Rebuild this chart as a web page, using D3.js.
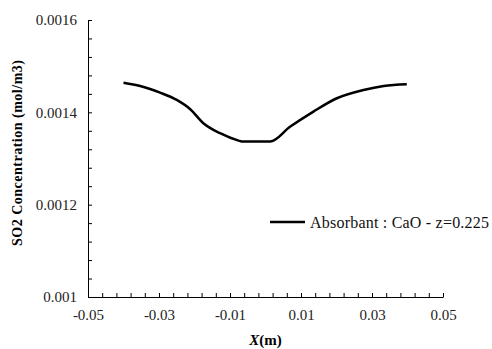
<!DOCTYPE html>
<html>
<head>
<meta charset="utf-8">
<script src="https://cdn.jsdelivr.net/npm/d3@7"></script>
<style>
  body { margin: 0; background: #fff; }
  svg { display: block; font-family: 'Liberation Serif', 'DejaVu Serif', serif; }
  .domain { stroke: #000; stroke-width: 1; }
  .tick line { stroke: #000; }
  .tick text { fill: #222; }
</style>
</head>
<body>
<div class="chart-container"></div>
<script>
// series: Absorbant : CaO - z=0.225
const xValues = [-0.040, -0.0353, -0.0297, -0.025, -0.0212, -0.0175, -0.0128, -0.0076, -0.0067, 0.0013, 0.007, 0.0135, 0.0201, 0.0276, 0.0333, 0.0398];
const yValues = [0.0014643, 0.0014572, 0.0014427, 0.0014269, 0.0014068, 0.0013765, 0.0013548, 0.0013388, 0.0013370, 0.0013366, 0.0013691, 0.0014016, 0.0014305, 0.0014485, 0.0014572, 0.0014608];

const xTicks = [-0.05, -0.03, -0.01, 0.01, 0.03, 0.05];
const yTicks = [0.001, 0.0012, 0.0014, 0.0016];
const seriesName = 'Absorbant : CaO - z=0.225';

const W = 492, H = 349;
const margin = {top: 20, right: 49, bottom: 52, left: 88};
const width = W - margin.left - margin.right;
const height = H - margin.top - margin.bottom;
const serif = "'Liberation Serif', 'DejaVu Serif', serif";

const svg = d3.select('.chart-container')
    .append('svg')
    .attr('width', W)
    .attr('height', H);

const chart = svg.append('g')
    .attr('transform', 'translate(' + margin.left + ',' + margin.top + ')');

const xScale = d3.scaleLinear().domain([-0.05, 0.05]).range([0, width]);
const yScale = d3.scaleLinear().domain([0.001, 0.0016]).range([height, 0]);

// minor ticks (inside)
const xMinor = d3.range(0, 26).map(i => -0.05 + i * 0.004);
const yMinor = d3.range(0, 16).map(i => 0.001 + i * 0.00004);

chart.append('g')
    .attr('transform', 'translate(0,' + height + ')')
    .call(d3.axisBottom(xScale).tickValues(xMinor).tickSize(-4).tickSizeOuter(0).tickFormat(''));

chart.append('g')
    .attr('transform', 'translate(0,' + height + ')')
    .call(d3.axisBottom(xScale).tickValues(xTicks).tickSize(0).tickPadding(12).tickFormat(d => String(d)))
    .attr('font-family', serif)
    .attr('font-size', 15)
    .call(g => g.select('.domain').remove());

chart.append('g')
    .call(d3.axisLeft(yScale).tickValues(yMinor).tickSize(-4).tickSizeOuter(0).tickFormat(''));

chart.append('g')
    .call(d3.axisLeft(yScale).tickValues(yTicks).tickSize(0).tickPadding(11).tickFormat(d => String(+d.toFixed(4))))
    .attr('font-family', serif)
    .attr('font-size', 15)
    .call(g => g.select('.domain').remove());

// line
const points = xValues.map((x, i) => ({x: x, y: yValues[i]}));
const valueline = d3.line()
    .x(d => xScale(d.x))
    .y(d => yScale(d.y))
    .curve(d3.curveMonotoneX);

chart.append('path')
    .datum(points)
    .attr('d', valueline)
    .attr('fill', 'none')
    .attr('stroke', '#000')
    .attr('stroke-width', 2.5);

// legend
const legend = svg.append('g').attr('transform', 'translate(270,222)');
legend.append('line')
    .attr('x1', 0).attr('x2', 35)
    .attr('stroke', '#000')
    .attr('stroke-width', 2.5);
legend.append('text')
    .attr('x', 40)
    .attr('y', 5.5)
    .attr('font-family', serif)
    .attr('textLength', 179)
    .attr('lengthAdjust', 'spacing')
    .style('font-size', '16px')
    .style('fill', '#111')
    .text(seriesName);

// axis titles
svg.append('text')
    .attr('transform', 'translate(22,153) rotate(-90)')
    .attr('text-anchor', 'middle')
    .attr('font-family', serif)
    .attr('textLength', 186)
    .attr('lengthAdjust', 'spacing')
    .style('font-size', '14px')
    .style('font-weight', 'bold')
    .text('SO2 Concentration (mol/m3)');

const xt = svg.append('text')
    .attr('x', margin.left + width / 2)
    .attr('y', 345)
    .attr('text-anchor', 'middle')
    .attr('font-family', serif)
    .style('font-size', '15px')
    .style('font-weight', 'bold');
xt.append('tspan').style('font-style', 'italic').text('X');
xt.append('tspan').text('(m)');
</script>
</body>
</html>
